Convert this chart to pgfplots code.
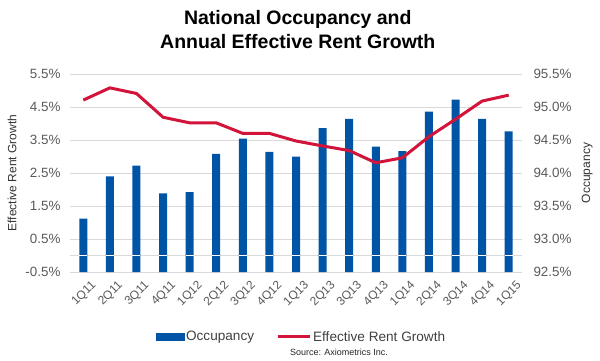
\documentclass[border=0pt]{standalone}
\usepackage{pgfplots}
\pgfplotsset{compat=1.18}
\usepackage{fontspec}
\setmainfont{Liberation Sans}
\definecolor{barblue}{RGB}{0,84,166}
\definecolor{linered}{RGB}{210,19,58}
\definecolor{gridgray}{RGB}{217,217,217}
\definecolor{labgray}{RGB}{89,89,89}
\begin{document}
\begin{tikzpicture}
\useasboundingbox (0pt,0pt) rectangle (600pt,360pt);
% Occupancy bars (right axis)
\begin{axis}[
  at={(70pt,88pt)}, anchor=south west,
  width=452pt, height=198pt, scale only axis,
  xmin=-0.5, xmax=16.5, ymin=92.5, ymax=95.5,
  axis y line*=right, axis x line*=bottom,
  axis line style={draw=none},
  major tick style={draw=none},
  ytick={92.5,93,93.5,94,94.5,95,95.5},
  ymajorgrids, grid style={gridgray, line width=0.8pt},
  extra y ticks={92.75}, extra y tick labels={},
  extra y tick style={grid=major},
  /pgf/number format/assume math mode=true,
  yticklabel={\pgfmathprintnumber[fixed,fixed zerofill,precision=1]{\tick}\%},
  yticklabel style={font=\fontsize{13.4}{16}\selectfont, text=labgray, anchor=west, xshift=8pt},
  xtick={0,...,16},
  xticklabels={1Q11,2Q11,3Q11,4Q11,1Q12,2Q12,3Q12,4Q12,1Q13,2Q13,3Q13,4Q13,1Q14,2Q14,3Q14,4Q14,1Q15},
  xticklabel style={font=\fontsize{12}{14}\selectfont, text=labgray, rotate=45, anchor=north east, xshift=3pt, yshift=-7pt},
  ylabel={Occupancy},
  ylabel style={font=\fontsize{12}{14}\selectfont, text=black!80, at={(axis description cs:1.144,0.5)}, anchor=center, rotate=0},
]
\addplot[ybar, bar width=8pt, fill=barblue, draw=none] coordinates {
(0,93.31) (1,93.95) (2,94.11) (3,93.69) (4,93.71) (5,94.29) (6,94.52) (7,94.32) (8,94.25)
(9,94.68) (10,94.82) (11,94.40) (12,94.33) (13,94.93) (14,95.11) (15,94.82) (16,94.63)};
\addplot[only marks, mark=-, mark size=4pt, white, mark options={line width=1pt}] coordinates {
(0,92.75) (1,92.75) (2,92.75) (3,92.75) (4,92.75) (5,92.75) (6,92.75) (7,92.75) (8,92.75)
(9,92.75) (10,92.75) (11,92.75) (12,92.75) (13,92.75) (14,92.75) (15,92.75) (16,92.75)};
\end{axis}
% Rent growth line (left axis)
\begin{axis}[
  at={(70pt,88pt)}, anchor=south west,
  width=452pt, height=198pt, scale only axis,
  xmin=-0.5, xmax=16.5, ymin=-0.5, ymax=5.5,
  axis y line*=left, axis x line=none,
  axis line style={draw=none},
  major tick style={draw=none},
  ytick={-0.5,0.5,1.5,2.5,3.5,4.5,5.5},
  /pgf/number format/assume math mode=true,
  yticklabel={\pgfmathprintnumber[fixed,fixed zerofill,precision=1]{\tick}\%},
  yticklabel style={font=\fontsize{13.4}{16}\selectfont, text=labgray, anchor=east, xshift=-6pt},
  ylabel={Effective Rent Growth},
  ylabel style={font=\fontsize{12}{14}\selectfont, text=black!80, at={(axis description cs:-0.128,0.5)}, anchor=center},
  title={National Occupancy and\\Annual Effective Rent Growth},
  title style={font=\bfseries\fontsize{19.5}{24}\selectfont, align=center, at={(axis description cs:0.504,1.192)}, anchor=center},
  legend columns=2,
  legend style={draw=none, fill=none, at={(axis description cs:0.512,-0.328)}, anchor=center,
    font=\fontsize{13.6}{16}\selectfont, text=black!75,
    /tikz/every even column/.append style={column sep=20pt}},
]
\addlegendimage{legend image code/.code={\fill[barblue] (0pt,-3.5pt) rectangle (28pt,3.5pt);}}
\addlegendentry{Occupancy}
\addplot[linered, line width=3pt, line join=round, mark=none,
  legend image code/.code={\draw[linered, line width=3pt] (0pt,0pt) -- (32pt,0pt);}] coordinates {
(0,4.71) (1,5.08) (2,4.91) (3,4.19) (4,4.02) (5,4.02) (6,3.70) (7,3.70) (8,3.47)
(9,3.32) (10,3.18) (11,2.81) (12,2.96) (13,3.60) (14,4.13) (15,4.68) (16,4.86)};
\addlegendentry{Effective Rent Growth}
\end{axis}
\node[font=\fontsize{9}{11}\selectfont, text=black!85] at (339pt,8pt) {Source: Axiometrics Inc.};
\end{tikzpicture}
\end{document}
